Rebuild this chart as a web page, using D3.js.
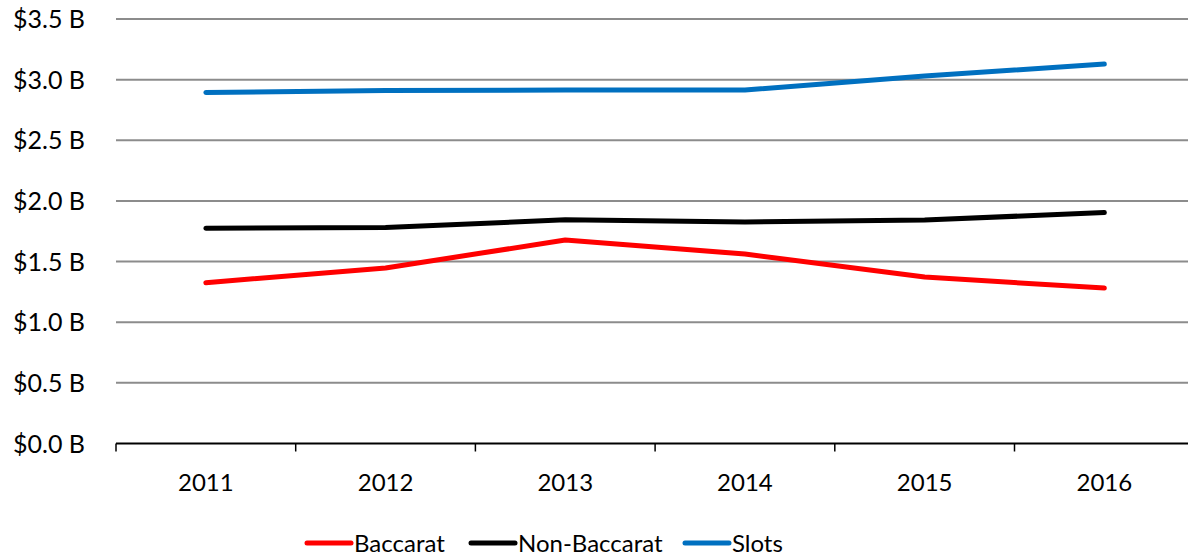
<!DOCTYPE html>
<html>
<head>
<meta charset="utf-8">
<script src="https://cdn.jsdelivr.net/npm/d3@7"></script>
<style>
  body { margin: 0; background: #fff; }
  svg { display: block; font-family: Lato, "Open Sans", sans-serif; }
</style>
</head>
<body>
<div id="chart"></div>
<script>
// data
var years = ["2011", "2012", "2013", "2014", "2015", "2016"];
var baccarat = [1.326, 1.447, 1.678, 1.562, 1.372, 1.282];
var nonBaccarat = [1.775, 1.780, 1.845, 1.826, 1.843, 1.904];
var slots = [2.894, 2.910, 2.914, 2.914, 3.030, 3.128];
var yTicks = [0, 0.5, 1, 1.5, 2, 2.5, 3, 3.5];
var seriesNames = ["Baccarat", "Non-Baccarat", "Slots"];
var seriesColors = ["#ff0000", "#000000", "#0070c0"];

var W = 1188, H = 559;
var margin = {top: 19, left: 116, bottom: 443.5};

var svg = d3.select("#chart")
    .append("svg")
    .attr("width", W)
    .attr("height", H);

var x = d3.scaleBand()
    .domain(years)
    .range([margin.left, margin.left + 6 * 179.7]);

var y = d3.scaleLinear()
    .domain([0, 3.5])
    .range([margin.bottom, margin.top]);

// gridlines
svg.append("g")
    .selectAll("line")
    .data(yTicks.slice(1))
    .enter()
    .append("line")
      .attr("x1", margin.left)
      .attr("x2", W)
      .attr("y1", function(d) { return y(d); })
      .attr("y2", function(d) { return y(d); })
      .attr("stroke", "#8c8c8c")
      .attr("stroke-width", 2);

// y labels
svg.append("g")
    .selectAll("text")
    .data(yTicks)
    .enter()
    .append("text")
      .attr("x", 85)
      .attr("y", function(d) { return y(d); })
      .attr("dy", "0.36em")
      .attr("text-anchor", "end")
      .style("font-size", "25px")
      .text(function(d) { return "$" + d.toFixed(1) + " B"; });

// x axis
var xAxis = svg.append("g")
    .attr("transform", "translate(0," + y(0) + ")")
    .call(d3.axisBottom(x).tickSize(0).tickPadding(30))
    .call(function(g) { g.select(".domain").remove(); });

xAxis.selectAll("text")
    .style("font-size", "24px")
    .style("font-family", "Lato, sans-serif")
    .attr("fill", "#000");

svg.append("line")
    .attr("x1", margin.left)
    .attr("x2", W)
    .attr("y1", y(0))
    .attr("y2", y(0))
    .attr("stroke", "#000")
    .attr("stroke-width", 2);

var bounds = years.map(function(d) { return x(d); });
bounds.push(x.range()[1]);
svg.append("g")
    .selectAll("line")
    .data(bounds)
    .enter()
    .append("line")
      .attr("x1", function(d) { return d; })
      .attr("x2", function(d) { return d; })
      .attr("y1", y(0))
      .attr("y2", y(0) + 8)
      .attr("stroke", "#000")
      .attr("stroke-width", 1.5);

// lines
var allSeries = [baccarat, nonBaccarat, slots];
var line = d3.line()
    .x(function(d, i) { return x(years[i]) + x.bandwidth() / 2; })
    .y(function(d) { return y(d); });

allSeries.forEach(function(s, i) {
  svg.append("path")
    .datum(s)
    .attr("fill", "none")
    .attr("stroke", seriesColors[i])
    .attr("stroke-width", 5)
    .attr("stroke-linecap", "round")
    .attr("stroke-linejoin", "round")
    .attr("d", line);
});

// legend
var legendX = [307, 471, 685];
var legend = svg.append("g");
seriesNames.forEach(function(name, i) {
  legend.append("line")
    .attr("x1", legendX[i])
    .attr("x2", legendX[i] + 44)
    .attr("y1", 543)
    .attr("y2", 543)
    .attr("stroke", seriesColors[i])
    .attr("stroke-width", 5)
    .attr("stroke-linecap", "round");
  legend.append("text")
    .attr("x", legendX[i] + 47)
    .attr("y", 543)
    .attr("dy", "0.36em")
    .style("font-size", "24px")
    .text(name);
});
</script>
</body>
</html>
